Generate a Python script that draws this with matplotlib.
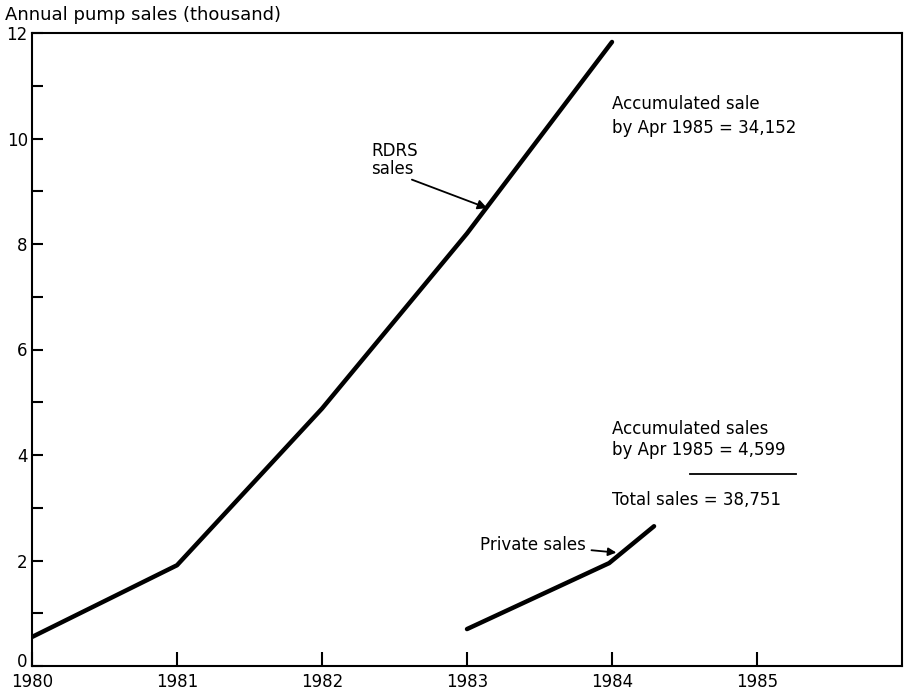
import matplotlib
matplotlib.use("Agg")
import matplotlib.pyplot as plt
from matplotlib.transforms import ScaledTranslation

# Data (thousand pumps)
rdrs_years = [1980.0, 1981.0, 1982.0, 1983.0, 1984.0]
rdrs_sales = [0.55, 1.91, 4.88, 8.2, 11.83]
private_years = [1983.0, 1983.98, 1984.29]
private_sales = [0.70, 1.95, 2.65]
x_ticks = [1980, 1981, 1982, 1983, 1984, 1985]
y_major = [0, 2, 4, 6, 8, 10, 12]
y_minor = [1, 3, 5, 7, 9, 11]

plt.rcParams['font.family'] = ['DejaVu Sans']
fig = plt.figure(figsize=(9.07, 6.93), dpi=100)
ax = fig.add_axes([32/907, 27/693, 870/907, 633/693])

ax.plot(rdrs_years, rdrs_sales, color='black', lw=3.2, solid_capstyle='round', solid_joinstyle='round')
ax.plot(private_years, private_sales, color='black', lw=3.2, solid_capstyle='round', solid_joinstyle='round')

ax.set_xlim(1980, 1986)
ax.set_ylim(0, 12)
ax.set_xticks(x_ticks)
ax.set_xticklabels([str(v) for v in x_ticks])
ax.set_yticks(y_major)
ax.set_yticklabels([str(v) for v in y_major])
ax.set_yticks(y_minor, minor=True)
ax.tick_params(axis='both', which='both', direction='in', labelsize=12, width=1.5, color='black')
ax.tick_params(axis='x', which='major', length=10, pad=5)
ax.tick_params(axis='y', which='major', length=8, pad=3)
ax.tick_params(axis='y', which='minor', length=8)
for s in ax.spines.values():
    s.set_linewidth(1.5)

# lift the "0" label slightly so it sits above the "1980" label
zero_lbl = ax.get_yticklabels()[0]
zero_lbl.set_transform(zero_lbl.get_transform() + ScaledTranslation(0, 4/72, fig.dpi_scale_trans))

fig.text(5/907, 1 - 15/693, "Annual pump sales (thousand)", fontsize=13, va='center', ha='left')

fs = 12
ax.text(1984.0, 10.83, "Accumulated sale\nby Apr 1985 = 34,152", fontsize=fs, va='top', ha='left', linespacing=1.45)
ax.text(1982.34, 9.59, "RDRS\nsales", fontsize=fs, ha='left', va='center', linespacing=1.05)
ax.annotate("", xy=(1983.14, 8.68), xytext=(1982.62, 9.22),
            arrowprops=dict(arrowstyle='-|>', color='black', lw=1.3, mutation_scale=14,
                            shrinkA=0, shrinkB=0))
ax.text(1984.0, 4.29, "Accumulated sales\nby Apr 1985 = 4,599", fontsize=fs, va='center', ha='left', linespacing=1.2)
ax.plot([1984.54, 1985.27], [3.64, 3.64], color='black', lw=1.3)
ax.text(1984.0, 3.15, "Total sales = 38,751", fontsize=fs, va='center', ha='left')
ax.annotate("Private sales", xy=(1984.03, 2.15), xytext=(1983.09, 2.3), fontsize=fs,
            ha='left', va='center',
            arrowprops=dict(arrowstyle='-|>', color='black', lw=1.3, mutation_scale=12,
                            shrinkA=2, shrinkB=0))

fig.savefig("out.png", dpi=100)
